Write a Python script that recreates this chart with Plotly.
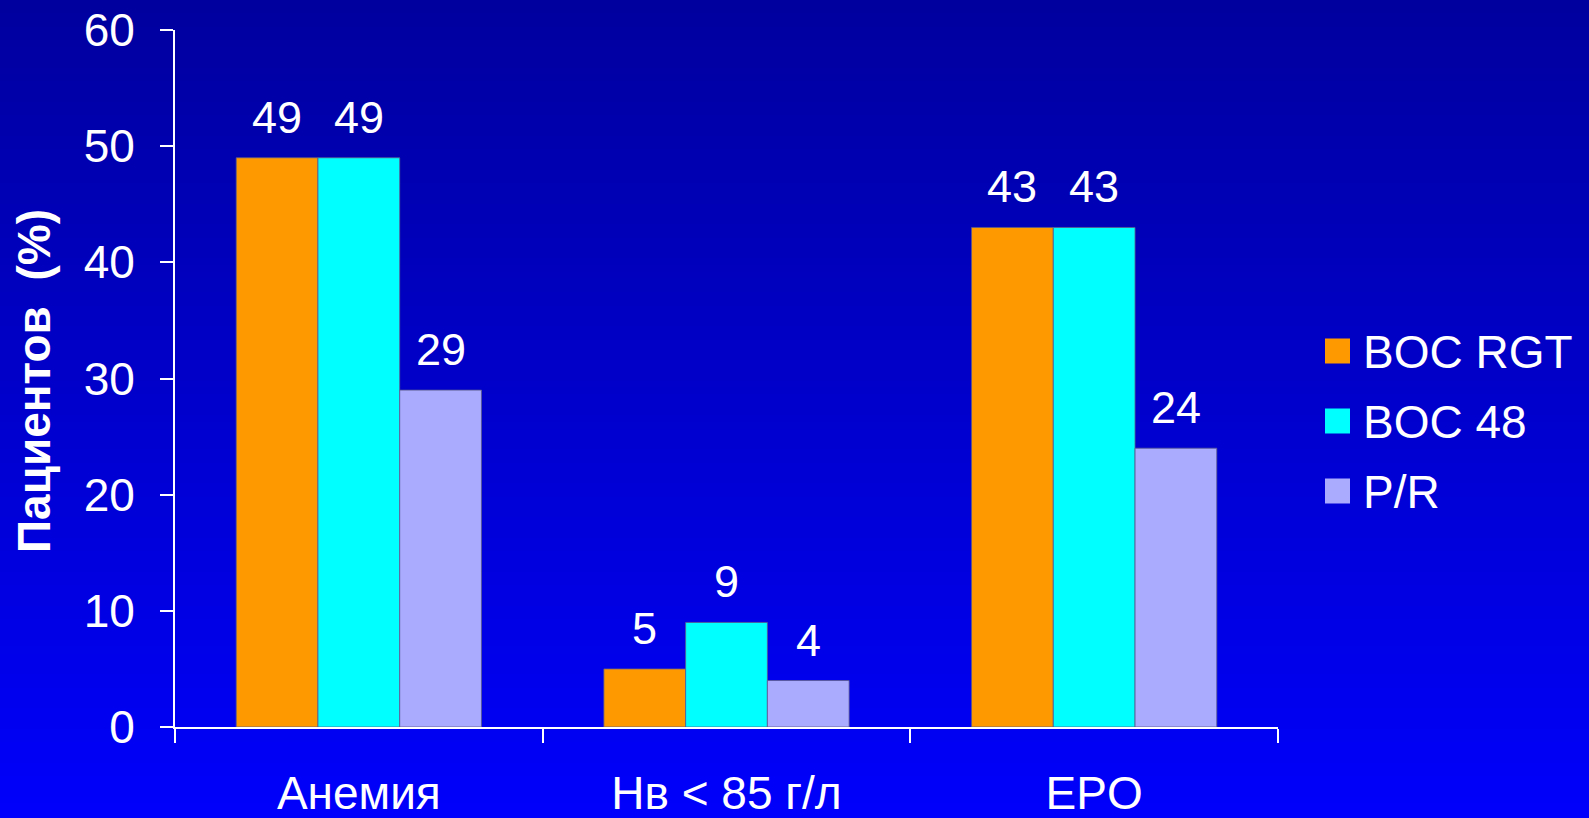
import plotly.graph_objects as go

# Data
categories = ["Анемия", "Нв < 85 г/л", "EPO"]
series_names = ["BOC RGT", "BOC 48", "P/R"]
boc_rgt = [49, 5, 43]
boc_48 = [49, 9, 43]
p_r = [29, 4, 24]
y_ticks = [0, 10, 20, 30, 40, 50, 60]

colors = ["#FF9900", "#00FFFF", "#AAAAFF"]
FONT = "Liberation Sans, Arial, sans-serif"

W, H = 1589, 818
M_L, M_R, M_T, M_B = 175, 311, 30, 91
PW, PH = W - M_L - M_R, H - M_T - M_B
BARGAP = 0.333


def px_x(x):
    return (x - M_L) / PW


def px_y(y):
    return (H - M_B - y) / PH


fig = go.Figure()
all_series = [boc_rgt, boc_48, p_r]
for name, vals, col in zip(series_names, all_series, colors):
    fig.add_trace(go.Bar(
        x=categories, y=vals, name=name,
        marker=dict(color=col, line=dict(color="rgba(90,90,140,0.8)", width=1)),
        showlegend=False,
    ))

annotations = []

# value labels above each bar (positioned at the bar's centre within its group)
bar_w = (1 - BARGAP) / len(all_series)
for j, vals in enumerate(all_series):
    offset = (j - (len(all_series) - 1) / 2) * bar_w
    for i, v in enumerate(vals):
        annotations.append(dict(
            xref="x", yref="y", x=i + offset, y=v,
            xanchor="center", yanchor="bottom", yshift=13,
            text=str(v), showarrow=False,
            font=dict(family=FONT, size=45, color="white"),
        ))

# vertical background gradient (dark blue at top, bright blue at bottom)
n_strips = 120
shapes = []
for i in range(n_strips):
    t = (i + 0.5) / n_strips
    b = int(round(158 + (252 - 158) * t))
    y_top = H * i / n_strips - 1
    y_bot = H * (i + 1) / n_strips + 1
    shapes.append(dict(
        type="rect", xref="paper", yref="paper", layer="below",
        x0=px_x(-2), x1=px_x(W + 2), y0=px_y(y_bot), y1=px_y(y_top),
        fillcolor=f"rgb(0,0,{b})", line=dict(width=0),
    ))

# legend: coloured squares with labels
leg_centers = [351, 421, 491]
for name, col, cy in zip(series_names, colors, leg_centers):
    shapes.append(dict(
        type="rect", xref="paper", yref="paper",
        x0=px_x(1325), x1=px_x(1350), y0=px_y(cy + 12.5), y1=px_y(cy - 12.5),
        fillcolor=col, line=dict(width=0),
    ))
    annotations.append(dict(
        xref="paper", yref="paper", x=px_x(1361), y=px_y(cy + 1),
        xanchor="left", yanchor="middle", text=name, showarrow=False,
        font=dict(family=FONT, size=46, color="white"),
    ))

# y-axis title
annotations.append(dict(
    xref="paper", yref="paper", x=px_x(34), y=px_y(381),
    xanchor="center", yanchor="middle", textangle=-90,
    text="<b>Пациентов \u00a0(%)</b>", showarrow=False,
    font=dict(family=FONT, size=46, color="white"),
))

fig.update_layout(
    template="none",
    width=W, height=H,
    margin=dict(l=M_L, r=M_R, t=M_T, b=M_B, pad=0, autoexpand=False),
    paper_bgcolor="rgb(0,0,205)",
    plot_bgcolor="rgba(0,0,0,0)",
    barmode="group", bargap=BARGAP, bargroupgap=0,
    shapes=shapes, annotations=annotations,
    showlegend=False,
    font=dict(family=FONT, color="white"),
)
fig.update_xaxes(
    automargin=False,
    showline=True, linecolor="white", linewidth=2,
    ticks="outside", tickson="boundaries", ticklen=14, tickwidth=2, tickcolor="white",
    tickfont=dict(family=FONT, size=46, color="white"),
    ticklabelstandoff=25, showgrid=False, zeroline=False,
)
fig.update_yaxes(
    automargin=False,
    range=[0, 60], tickvals=y_ticks,
    showline=True, linecolor="white", linewidth=2,
    ticks="outside", ticklen=13, tickwidth=2, tickcolor="white",
    tickfont=dict(family=FONT, size=46, color="white"),
    ticklabelstandoff=16, showgrid=False, zeroline=False,
)

fig.write_html("out.html")
